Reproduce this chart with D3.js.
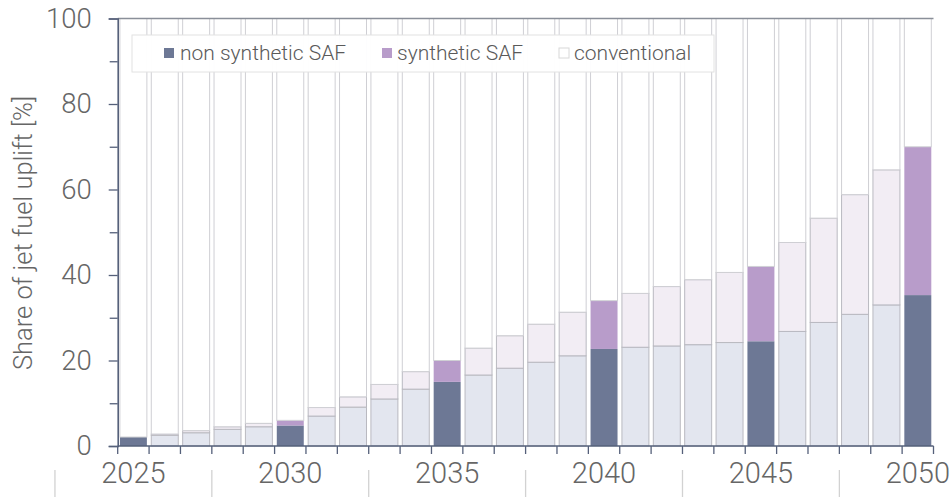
<!DOCTYPE html>
<html>
<head>
<meta charset="utf-8">
<script src="https://cdn.jsdelivr.net/npm/d3@7"></script>
<style>
  html, body { margin: 0; padding: 0; background: #fff; }
  svg { display: block; font-family: Roboto, "Liberation Sans", Arial, sans-serif; font-weight: 300; }
</style>
</head>
<body>
<svg id="chart" width="950" height="497"></svg>
<script>
// Share of jet fuel uplift by fuel type, 2025-2050 (%)
const years = d3.range(2025, 2051);
const nonSynthetic = [2.1, 2.5, 3.1, 3.9, 4.5, 4.8, 7.0, 9.1, 11.0, 13.3, 15.0, 16.6, 18.2, 19.6, 21.1,
                      22.7, 23.1, 23.4, 23.7, 24.2, 24.5, 26.8, 28.9, 30.8, 33.0, 35.3];
const synthetic    = [0.0, 0.3, 0.5, 0.6, 0.8, 1.2, 2.0, 2.4, 3.4, 4.1, 5.0, 6.3, 7.6, 8.9, 10.2,
                      11.3, 12.6, 13.9, 15.2, 16.4, 17.5, 20.8, 24.4, 28.0, 31.6, 34.7];
const milestoneYears = [2025, 2030, 2035, 2040, 2045, 2050];
const yMajorTicks = [0, 20, 40, 60, 80, 100];
const yMinorTicks = [10, 30, 50, 70, 90];
const seriesNames = ["non synthetic SAF", "synthetic SAF", "conventional"];

const rows = years.map((yr, i) => ({
  year: yr,
  nonSynthetic: nonSynthetic[i],
  synthetic: synthetic[i],
  conventional: 100 - nonSynthetic[i] - synthetic[i],
  milestone: milestoneYears.includes(yr)
}));

const svg = d3.select("#chart");
const plotLeft = 117.7, plotRight = 933.5, plotTop = 18.5, plotBottom = 446;

const x = d3.scaleBand().domain(years).range([plotLeft, plotRight]).padding(0);
const y = d3.scaleLinear().domain([0, 100]).range([plotBottom, plotTop]);
const inset = 2.2;

const colors = {
  nonSynthetic: { strong: "#6d7895", faded: "#e3e6ef" },
  synthetic:    { strong: "#b89cca", faded: "#f2edf4" },
  conventional: { strong: "#ffffff", faded: "#ffffff" }
};

const stack = d3.stack().keys(["nonSynthetic", "synthetic", "conventional"]);
const layers = stack(rows);

const barsG = svg.append("g");
layers.forEach(layer => {
  const key = layer.key;
  barsG.append("g").selectAll("rect")
    .data(layer)
    .join("rect")
    .attr("x", d => x(d.data.year) + inset)
    .attr("width", x.bandwidth() - 2 * inset)
    .attr("y", d => y(d[1]))
    .attr("height", d => Math.max(0, y(d[0]) - y(d[1])))
    .attr("fill", d => d.data.milestone ? colors[key].strong : colors[key].faded)
    .attr("stroke", d => {
      if (key === "conventional") return "#cfcfd4";
      return d.data.milestone ? "none" : "#b9b9c0";
    })
    .attr("stroke-width", 1);
});

// frame top line
svg.append("line")
  .attr("x1", plotLeft).attr("x2", plotRight)
  .attr("y1", y(100)).attr("y2", y(100))
  .attr("stroke", "#8a8f99").attr("stroke-width", 1.3);

const axisColor = "#55607a";
const labelColor = "#666666";

// y axis
const yAxis = svg.append("g").attr("transform", `translate(${plotLeft},0)`)
  .call(d3.axisLeft(y).tickValues(yMajorTicks).tickSize(9).tickPadding(17).tickFormat(d3.format("d")));
yAxis.attr("font-family", null);
yAxis.select(".domain").attr("stroke", axisColor).attr("stroke-width", 1.6);
yAxis.selectAll(".tick line").attr("stroke", axisColor).attr("stroke-width", 1.3);
yAxis.selectAll(".tick text")
  .attr("fill", labelColor).attr("font-size", 27.5);
svg.append("g").attr("transform", `translate(${plotLeft},0)`)
  .call(d3.axisLeft(y).tickValues(yMinorTicks).tickSize(8).tickFormat(""))
  .call(g => g.select(".domain").remove())
  .call(g => g.selectAll(".tick line").attr("stroke", axisColor).attr("stroke-width", 1.3));

// x axis: ticks at band boundaries
const boundaries = d3.range(0, years.length + 1).map(i => plotLeft + i * x.step());
const xAxisG = svg.append("g");
xAxisG.append("line")
  .attr("x1", plotLeft).attr("x2", plotRight)
  .attr("y1", plotBottom).attr("y2", plotBottom)
  .attr("stroke", axisColor).attr("stroke-width", 1.6);
xAxisG.selectAll("line.tick")
  .data(boundaries)
  .join("line")
  .attr("class", "tick")
  .attr("x1", d => d).attr("x2", d => d)
  .attr("y1", plotBottom).attr("y2", plotBottom + 8)
  .attr("stroke", axisColor).attr("stroke-width", 1.3);

// year labels for milestone years
xAxisG.selectAll("text")
  .data(milestoneYears)
  .join("text")
  .attr("x", d => x(d) + x.bandwidth() / 2)
  .attr("y", 483)
  .attr("text-anchor", "middle")
  .attr("fill", labelColor)
  .attr("font-size", 29)
  .text(d => d);

// separators between year labels
const sepIdx = [-2, 3, 8, 13, 18, 23];
xAxisG.selectAll("line.sep")
  .data(sepIdx)
  .join("line")
  .attr("class", "sep")
  .attr("x1", d => plotLeft + d * x.step()).attr("x2", d => plotLeft + d * x.step())
  .attr("y1", 470).attr("y2", 497)
  .attr("stroke", "#d2d2d2").attr("stroke-width", 1.3);

// y axis title
svg.append("text")
  .attr("transform", `translate(32,${233}) rotate(-90)`)
  .attr("text-anchor", "middle")
  .attr("fill", labelColor)
  .attr("font-size", 25.5)
  .text("Share of jet fuel uplift [%]");

// legend
const legend = svg.append("g");
legend.append("rect")
  .attr("x", 132).attr("y", 35).attr("width", 582).attr("height", 37)
  .attr("fill", "#ffffff").attr("fill-opacity", 0.96)
  .attr("stroke", "#e2e2e2").attr("stroke-width", 1);
const legendItems = [
  { name: seriesNames[0], fill: colors.nonSynthetic.strong, stroke: "none", sx: 164, tx: 180 },
  { name: seriesNames[1], fill: colors.synthetic.strong, stroke: "none", sx: 382, tx: 397 },
  { name: seriesNames[2], fill: "#ffffff", stroke: "#d8d8d8", sx: 559, tx: 574 }
];
legendItems.forEach(it => {
  legend.append("rect")
    .attr("x", it.sx).attr("y", 48).attr("width", 10).attr("height", 10)
    .attr("fill", it.fill).attr("stroke", it.stroke);
  legend.append("text")
    .attr("x", it.tx).attr("y", 60)
    .attr("fill", "#5a5a5a")
    .attr("font-size", 21)
    .text(it.name);
});
</script>
</body>
</html>
